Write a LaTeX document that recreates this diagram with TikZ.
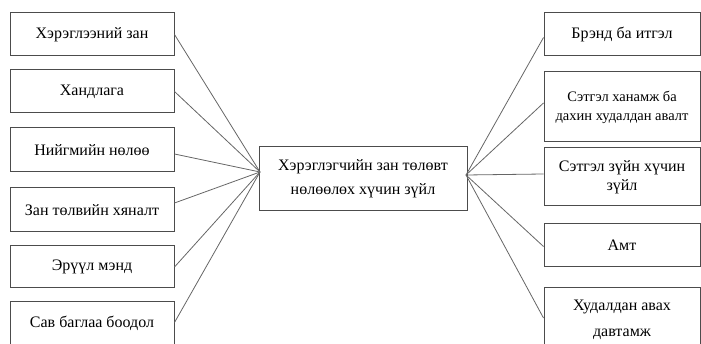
\documentclass[tikz,border=0pt]{standalone}
\usepackage{fontspec}
\setmainfont{Liberation Serif}
\begin{document}
\begin{tikzpicture}[x=1pt,y=-1pt,
  box/.style={draw=black!70,line width=1pt,align=center,inner sep=2pt,font=\fontsize{16}{19}\selectfont},
  conn/.style={draw=black!60,line width=0.8pt}]
\useasboundingbox (0,0) rectangle (701,344);
\clip (0,0) rectangle (701,344);
% left boxes
\node[box,minimum width=164,minimum height=43] (L1) at (92,34.5) {Хэрэглээний зан};
\node[box,minimum width=164,minimum height=43] (L2) at (92,91.5) {Хандлага};
\node[box,minimum width=164,minimum height=44] (L3) at (92,150) {Нийгмийн нөлөө};
\node[box,minimum width=164,minimum height=44] (L4) at (92,210) {Зан төлвийн хяналт};
\node[box,minimum width=164,minimum height=42] (L5) at (92,267) {Эрүүл мэнд};
\node[box,minimum width=164,minimum height=44] (L6) at (92,323.5) {Сав баглаа боодол};
% center
\node[box,minimum width=208,minimum height=64,font=\fontsize{16}{24}\selectfont] (C) at (363,179) {Хэрэглэгчийн зан төлөвт\\нөлөөлөх хүчин зүйл};
% right boxes
\node[box,minimum width=156,minimum height=43] (R1) at (622,34.5) {Брэнд ба итгэл};
\node[box,minimum width=156,minimum height=70,font=\fontsize{14.5}{19}\selectfont] (R2) at (622,107) {Сэтгэл ханамж ба\\дахин худалдан авалт};
\node[box,minimum width=156,minimum height=58] (R3) at (622,177) {Сэтгэл зүйн хүчин\\зүйл};
\node[box,minimum width=156,minimum height=43] (R4) at (622,245.5) {Амт};
\node[box,minimum width=156,minimum height=64,font=\fontsize{16}{26}\selectfont] (R5) at (622,320) {Худалдан авах\\давтамж};
% hubs
\coordinate (cl) at (260,172);
\coordinate (cr) at (466,175);
% connectors
\draw[conn] (L1.east) -- (cl);
\draw[conn] (L2.east) -- (cl);
\draw[conn] ([yshift=-4pt]L3.east) -- (cl);
\draw[conn] ([yshift=7pt]L4.east) -- (cl);
\draw[conn] (L5.east) -- (cl);
\draw[conn] ([yshift=1pt]L6.east) -- (cl);
\draw[conn] (cr) -- ([yshift=-3pt]R1.west);
\draw[conn] (cr) -- ([yshift=4pt]R2.west);
\draw[conn] (cr) -- ([yshift=3pt]R3.west);
\draw[conn] (cr) -- ([yshift=-1pt]R4.west);
\draw[conn] (cr) -- ([yshift=2pt]R5.west);
\end{tikzpicture}
\end{document}
